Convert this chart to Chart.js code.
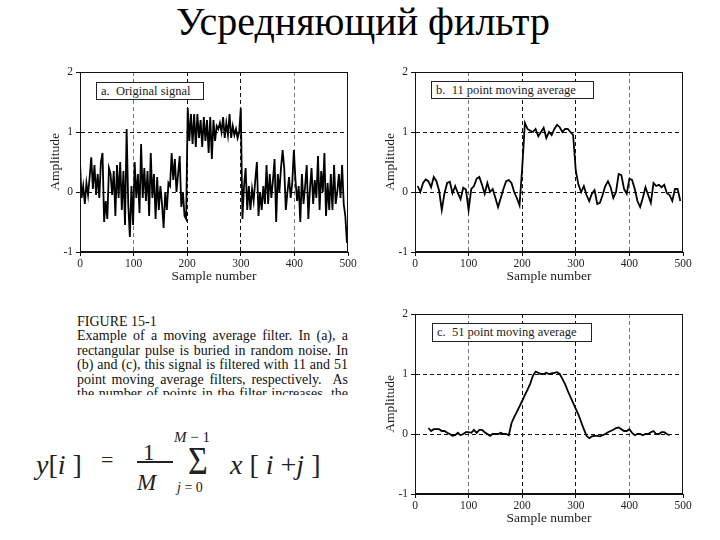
<!DOCTYPE html>
<html>
<head>
<meta charset="utf-8">
<script src="https://cdn.jsdelivr.net/npm/chart.js@4.4.1/dist/chart.umd.min.js"></script>
<style>
  html, body { margin: 0; padding: 0; background: #fff; }
  body { width: 720px; height: 540px; position: relative; overflow: hidden; font-family: 'Liberation Serif', 'Times New Roman', serif; color: #111; }
  .abs { position: absolute; }
  canvas { position: absolute; }
  #title { left: 3px; top: 2px; width: 720px; text-align: center; font-size: 40px; line-height: 40px; color: #000; }
  .tag { position: absolute; border: 1px solid #222; background: #fff; font-size: 12.5px; line-height: 16px; white-space: pre; padding-left: 4px; box-sizing: border-box; color: #222; }
  #caption { left: 77px; top: 315px; width: 271px; height: 80px; overflow: hidden; font-size: 14px; line-height: 14.4px; }
  #caption div { text-align: justify; text-align-last: justify; white-space: nowrap; }
  .f { position: absolute; line-height: 1; white-space: pre; color: #222; }
</style>
</head>
<body>
<div id="title" class="abs">Усредняющий фильтр</div>

<canvas id="chartA" width="320" height="230" style="left:40px; top:62px;"></canvas>
<canvas id="chartB" width="320" height="230" style="left:375px; top:62px;"></canvas>
<canvas id="chartC" width="320" height="230" style="left:375px; top:304px;"></canvas>

<div class="tag" style="left:96px; top:82px; width:108px; height:18px;">a.  Original signal</div>
<div class="tag" style="left:431px; top:81px; width:163px; height:18px;">b.  11 point moving average</div>
<div class="tag" style="left:432px; top:323px; width:160px; height:19px;">c.  51 point moving average</div>

<div id="caption" class="abs">
  <div style="text-align:left; text-align-last:left">FIGURE 15-1</div>
  <div>Example of a moving average filter. In (a), a</div>
  <div>rectangular pulse is buried in random noise. In</div>
  <div>(b) and (c), this signal is filtered with 11 and 51</div>
  <div>point moving average filters, respectively.&nbsp; As</div>
  <div>the number of points in the filter increases, the</div>
</div>

<!-- formula -->
<div class="f" style="left:36px; top:451px; font-size:28px;"><i>y</i>[<i>i</i> ]</div>
<div class="f" style="left:101px; top:449px; font-size:22px;">=</div>
<div class="f" style="left:143px; top:441px; font-size:23px;">1</div>
<div class="abs" style="left:137px; top:461px; width:36px; height:1.5px; background:#222;"></div>
<div class="f" style="left:137px; top:471px; font-size:23px;"><i>M</i></div>
<div class="f" style="left:174px; top:430px; font-size:15px;"><i>M</i> − 1</div>
<div class="f" style="left:188px; top:441px; font-size:40px; transform:scaleX(0.85); transform-origin:left top;">Σ</div>
<div class="f" style="left:177px; top:481px; font-size:14px;"><i>j</i> = 0</div>
<div class="f" style="left:230px; top:451px; font-size:28px;"><i>x</i> [ <i>i</i> +<i>j</i> ]</div>

<script>
// a. original signal, every 3rd sample (0..498)
const stepA = 3;
const signalA = [
  0.50,-0.10,0.10,-0.20,0.15,-0.05,0.25,0.58,0.05,0.45,-0.05,0.30,-0.10,0.50,0.65,-0.50,-0.15,
  -0.45,0.40,0.30,-0.05,0.35,-0.40,0.45,-0.10,0.50,-0.30,0.35,-0.55,1.05,-0.20,-0.75,0.10,-0.55,
  0.50,-0.10,0.30,-0.35,0.80,-0.10,0.40,-0.15,0.35,-0.40,0.65,-0.10,0.30,-0.45,0.25,-0.30,0.10,
  -0.20,-0.60,0.00,-0.30,0.15,0.10,0.65,0.20,0.55,0.00,0.30,0.60,-0.25,0.00,-0.40,-0.45,
  1.40,0.85,1.30,0.80,1.30,0.75,1.30,0.90,1.20,0.75,1.25,0.85,1.20,0.65,1.25,0.55,1.20,
  0.85,1.10,1.05,1.15,1.00,1.25,0.90,1.15,0.95,1.30,0.90,1.10,0.95,1.05,0.90,1.00,1.40,
  -0.45,0.10,0.40,-0.30,0.10,-0.30,0.05,-0.15,0.20,0.50,-0.40,0.00,-0.30,0.10,-0.20,0.45,-0.20,
  0.30,-0.10,0.20,0.55,-0.50,0.30,0.00,0.40,0.70,0.40,-0.30,0.00,0.25,-0.10,0.15,0.70,
  0.20,-0.15,0.10,-0.50,0.30,-0.20,0.10,0.45,-0.45,0.05,0.40,-0.20,0.20,-0.10,0.60,-0.30,0.35,
  0.00,0.65,-0.40,0.15,-0.30,0.30,-0.30,0.45,-0.20,0.00,0.30,-0.10,0.45,-0.20,-0.40,-0.85
];

// b. 11 point moving average, samples 5..495 every 5
const startB = 5, stepB = 5;
const signalB = [
  0.10,0.00,0.15,0.21,0.18,0.08,0.25,0.18,0.02,-0.30,
  -0.02,0.15,0.17,-0.02,0.10,-0.02,-0.12,0.07,0.04,-0.30,
  0.05,0.10,0.22,0.25,0.12,-0.03,0.15,0.00,0.05,-0.10,
  -0.25,-0.10,0.05,0.18,0.20,0.15,0.00,-0.10,-0.22,0.40,
  1.15,1.05,1.02,1.00,1.05,0.93,1.00,1.07,0.90,1.00,
  0.95,1.05,1.12,1.08,1.00,1.05,1.05,1.00,0.95,0.35,
  0.12,0.00,0.10,-0.05,-0.15,-0.03,0.03,-0.20,-0.18,-0.05,
  0.10,0.18,0.08,-0.10,0.00,0.30,0.28,0.05,-0.03,0.22,
  0.20,0.05,-0.15,-0.25,-0.10,0.08,-0.05,-0.18,0.15,0.10,
  0.12,0.08,0.12,-0.02,-0.05,-0.15,0.05,0.05,-0.15
];

// c. 51 point moving average, samples 25..475 every 5
const startC = 25, stepC = 5;
const signalC = [
  0.10,0.05,0.08,0.08,0.08,0.05,0.05,0.02,0.00,-0.03,
  -0.02,0.02,-0.02,0.00,0.03,0.03,0.02,0.07,0.02,0.07,
  0.07,0.03,0.00,-0.03,0.00,0.00,0.00,0.02,0.00,0.00,
  -0.02,0.18,0.28,0.37,0.46,0.55,0.65,0.74,0.84,0.97,
  1.04,1.02,1.00,1.00,1.02,1.00,1.01,1.02,1.03,1.00,
  0.92,0.83,0.72,0.62,0.52,0.42,0.32,0.20,0.08,-0.03,
  -0.07,-0.04,-0.03,-0.03,-0.04,-0.02,0.00,0.03,0.05,0.07,
  0.10,0.11,0.08,0.05,0.05,0.08,0.02,-0.02,0.00,0.00,
  -0.02,0.00,0.00,0.03,0.05,0.00,0.00,0.03,0.03,0.00,
  -0.02
];

const xTicks = [0, 100, 200, 300, 400, 500];
const yTicks = [-1, 0, 1, 2];

const serif = "'Liberation Serif', 'Times New Roman', serif";

// draw the solid box round the plot area
const framePlugin = {
  id: 'frame',
  afterDatasetsDraw(chart) {
    const a = chart.chartArea;
    const ctx = chart.ctx;
    ctx.save();
    ctx.strokeStyle = '#111';
    ctx.lineWidth = 1;
    const l = Math.round(a.left) + 0.5, t = Math.round(a.top) + 0.5;
    const r = Math.round(a.right) - 0.5, b = Math.round(a.bottom) - 0.5;
    ctx.strokeRect(l, t, r - l, b - t);
    ctx.restore();
  }
};

function points(values, start, step) {
  return values.map((v, i) => ({ x: start + i * step, y: v }));
}

function makeChart(id, data) {
  const ctx = document.getElementById(id).getContext('2d');
  return new Chart(ctx, {
    type: 'line',
    data: {
      datasets: [{
        data: data,
        borderColor: '#000',
        borderWidth: 1.8,
        pointRadius: 0,
        tension: 0,
        fill: false
      }]
    },
    options: {
      responsive: false,
      animation: false,
      devicePixelRatio: 1,
      layout: { padding: { left: 0, right: 12, top: 10, bottom: 0 } },
      plugins: { legend: { display: false }, tooltip: { enabled: false } },
      scales: {
        x: {
          type: 'linear',
          min: xTicks[0],
          max: xTicks[xTicks.length - 1],
          afterBuildTicks: s => { s.ticks = xTicks.map(v => ({ value: v })); },
          afterFit: s => { s.height = 40; },
          ticks: { color: '#222', font: { family: serif, size: 11.5 }, padding: 1, maxRotation: 0 },
          grid: {
            color: c => {
              const v = c.tick ? c.tick.value : null;
              if (v === 0 || v === 500) return 'rgba(0,0,0,0)';
              if (v === 100 || v === 400) return '#777';
              return '#111';
            },
            tickColor: '#111',
            tickLength: 4,
            lineWidth: 1
          },
          border: { color: '#111', width: 1, dash: [4, 3] },
          title: { display: true, text: 'Sample number', color: '#222', font: { family: serif, size: 13.5 }, padding: { top: 0, bottom: 7 } }
        },
        y: {
          min: yTicks[0],
          max: yTicks[yTicks.length - 1],
          afterBuildTicks: s => { s.ticks = yTicks.map(v => ({ value: v })); },
          afterFit: s => { s.width = 40; },
          ticks: { color: '#222', font: { family: serif, size: 11.5 }, padding: 3 },
          grid: {
            color: c => {
              const v = c.tick ? c.tick.value : null;
              if (v === -1 || v === 2) return 'rgba(0,0,0,0)';
              return '#111';
            },
            tickColor: '#111',
            tickLength: 4,
            lineWidth: 1
          },
          border: { color: '#111', width: 1, dash: [4, 3] },
          title: { display: true, text: 'Amplitude', color: '#222', font: { family: serif, size: 13.5 }, padding: { top: 7, bottom: 0 } }
        }
      }
    },
    plugins: [framePlugin]
  });
}

makeChart('chartA', points(signalA, 0, stepA));
makeChart('chartB', points(signalB, startB, stepB));
makeChart('chartC', points(signalC, startC, stepC));
</script>
</body>
</html>
